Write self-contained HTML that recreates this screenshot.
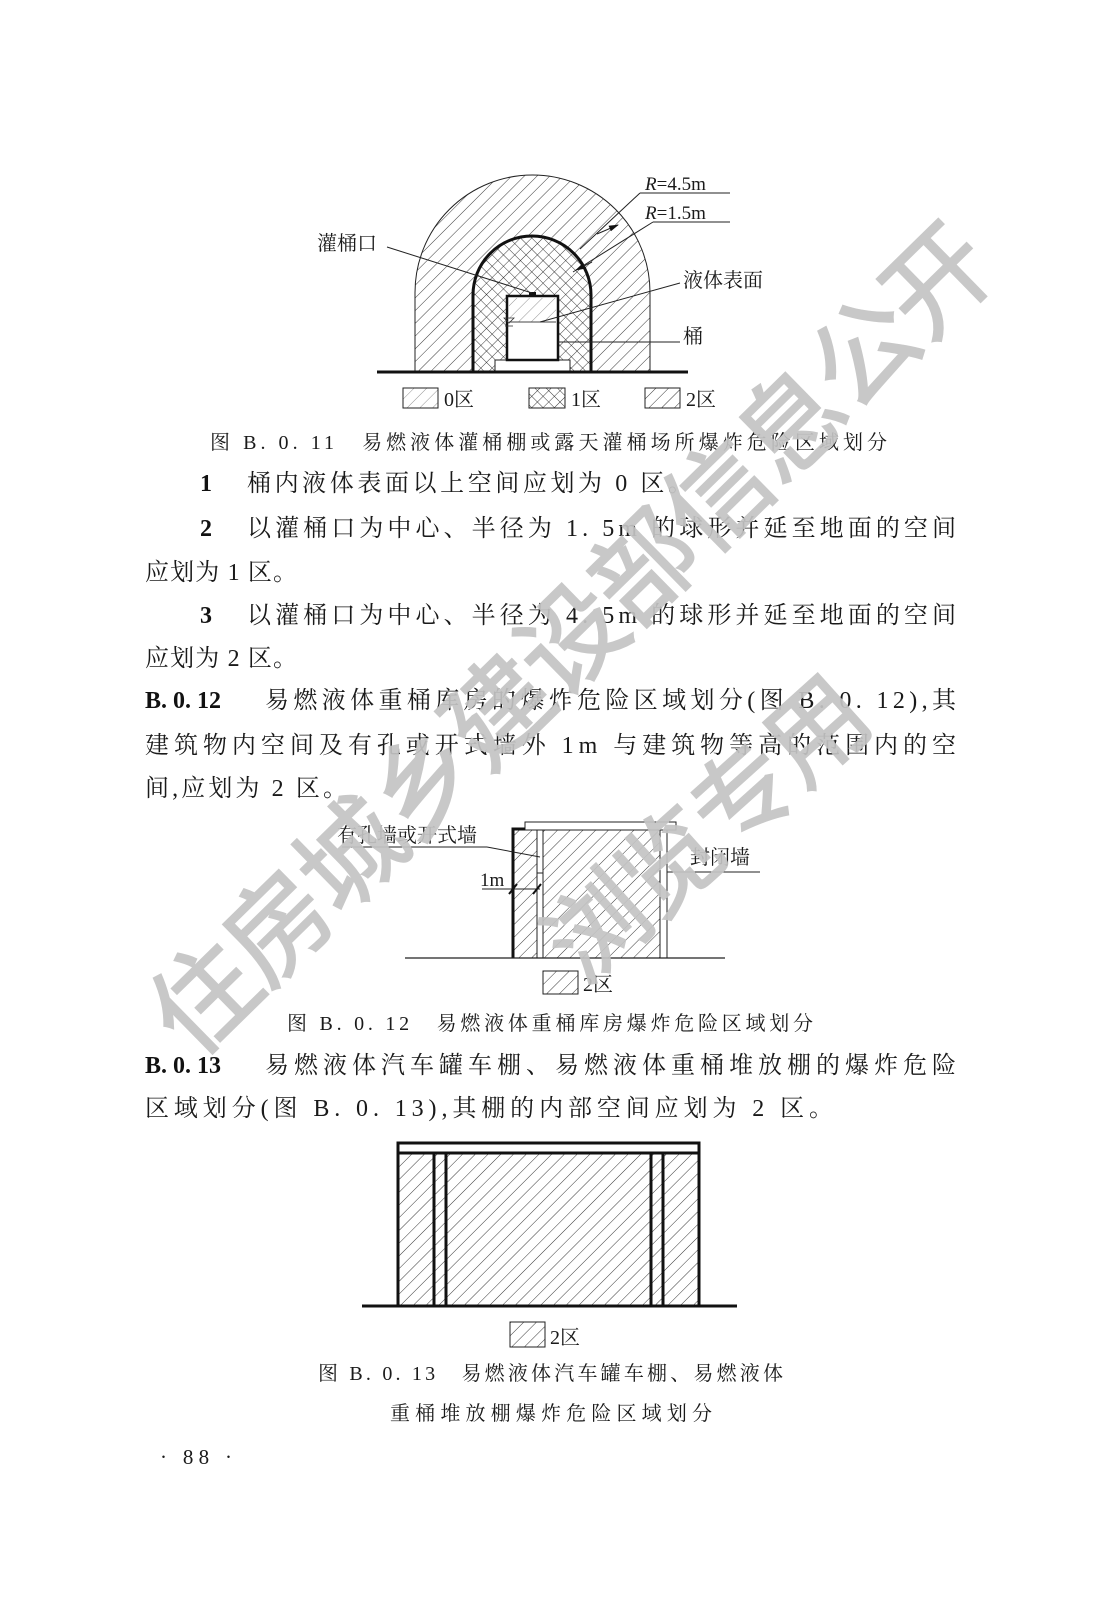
<!DOCTYPE html>
<html><head><meta charset="utf-8">
<style>
html,body{margin:0;padding:0;background:#fff;}
svg{display:block;}
.t{font-family:"Liberation Serif","Noto Serif CJK SC",serif;fill:#1a1a1a;}
.b{font-family:"Liberation Serif","Noto Serif CJK SC",serif;font-weight:bold;fill:#111;}
.wm{font-family:"Noto Sans CJK SC","WenQuanYi Zen Hei",sans-serif;font-weight:normal;fill:#c4c4c4;stroke:#c4c4c4;stroke-width:2;}
</style></head>
<body>
<svg width="1102" height="1598" viewBox="0 0 1102 1598" xmlns="http://www.w3.org/2000/svg">
<defs>
 <pattern id="h" width="9" height="9" patternUnits="userSpaceOnUse" patternTransform="rotate(45)">
  <line x1="0" y1="0" x2="0" y2="9" stroke="#222" stroke-width="0.9"/>
 </pattern>
 <pattern id="h0" width="9" height="9" patternUnits="userSpaceOnUse" patternTransform="rotate(45)">
  <line x1="0" y1="0" x2="0" y2="9" stroke="#666" stroke-width="0.7"/>
 </pattern>
 <pattern id="x" width="8" height="8" patternUnits="userSpaceOnUse" patternTransform="rotate(45)">
  <line x1="0" y1="0" x2="0" y2="8" stroke="#222" stroke-width="0.9"/>
  <line x1="0" y1="0" x2="8" y2="0" stroke="#222" stroke-width="0.9"/>
 </pattern>
 <marker id="ar" markerWidth="10" markerHeight="8" refX="9" refY="4" orient="auto" markerUnits="userSpaceOnUse">
  <path d="M0,1 L10,4 L0,7 Z" fill="#111"/>
 </marker>
</defs>

<path d="M415,372 V292.5 A117.5,117.5 0 0 1 650,292.5 V372 Z" fill="url(#h)" stroke="#222" stroke-width="1"/>
<path d="M473,372 V295 A59,59 0 0 1 591,295 V372 Z" fill="#fff"/>
<path d="M473,372 V295 A59,59 0 0 1 591,295 V372 Z" fill="url(#x)" stroke="#111" stroke-width="3"/>
<rect x="495" y="360" width="75" height="12" fill="#fff" stroke="#222" stroke-width="1"/>
<rect x="507" y="296" width="51" height="64" fill="#fff" stroke="#111" stroke-width="2.5"/>
<rect x="509" y="298" width="47" height="24" fill="url(#h0)"/>
<line x1="509" y1="322" x2="556" y2="322" stroke="#444" stroke-width="1"/>
<path d="M504,318 h10 l-5,5 z" fill="none" stroke="#333" stroke-width="0.8"/>
<line x1="505" y1="326" x2="513" y2="326" stroke="#333" stroke-width="0.8"/>
<rect x="529" y="292" width="7" height="4" fill="#111"/>
<line x1="377" y1="372" x2="688" y2="372" stroke="#111" stroke-width="3"/>
<line x1="387" y1="247" x2="532" y2="293" stroke="#222" stroke-width="1"/>
<line x1="680" y1="283" x2="540" y2="322" stroke="#222" stroke-width="1"/>
<line x1="558" y1="342" x2="680" y2="342" stroke="#222" stroke-width="1"/>
<line x1="640" y1="193" x2="730" y2="193" stroke="#222" stroke-width="1"/>
<line x1="653" y1="222" x2="730" y2="222" stroke="#222" stroke-width="1"/>
<line x1="640" y1="193" x2="580" y2="249" stroke="#222" stroke-width="1"/>
<line x1="597" y1="234" x2="618" y2="225" stroke="#222" stroke-width="1" marker-end="url(#ar)"/>
<line x1="653" y1="222" x2="573" y2="272" stroke="#222" stroke-width="1"/>
<line x1="592" y1="262" x2="576" y2="270" stroke="#222" stroke-width="1" marker-end="url(#ar)"/>
<text class="t" x="645" y="190" font-size="19"><tspan font-style="italic">R</tspan>=4.5m</text>
<text class="t" x="645" y="219" font-size="19"><tspan font-style="italic">R</tspan>=1.5m</text>
<text class="t" x="317" y="250" font-size="20">灌桶口</text>
<text class="t" x="683" y="287" font-size="20">液体表面</text>
<text class="t" x="683" y="343" font-size="20">桶</text>
<rect x="403" y="388" width="35" height="20" fill="url(#h0)" stroke="#222" stroke-width="1"/>
<text class="t" x="444" y="406" font-size="20">0区</text>
<rect x="529" y="388" width="36" height="20" fill="url(#x)" stroke="#222" stroke-width="1"/>
<text class="t" x="571" y="406" font-size="20">1区</text>
<rect x="645" y="388" width="35" height="20" fill="url(#h)" stroke="#222" stroke-width="1"/>
<text class="t" x="686" y="406" font-size="20">2区</text>
<text class="t" x="210" y="449" font-size="20" textLength="677" lengthAdjust="spacing">图 B. 0. 11　易燃液体灌桶棚或露天灌桶场所爆炸危险区域划分</text>

<text class="b" x="200" y="491" font-size="24">1</text>
<text class="t" x="247" y="491" font-size="24" textLength="445" lengthAdjust="spacing">桶内液体表面以上空间应划为 0 区。</text>
<text class="b" x="200" y="536" font-size="24">2</text>
<text class="t" x="247" y="536" font-size="24" textLength="709" lengthAdjust="spacing">以灌桶口为中心、半径为 1. 5m 的球形并延至地面的空间</text>
<text class="t" x="145" y="580" font-size="24" textLength="152" lengthAdjust="spacing">应划为 1 区。</text>
<text class="b" x="200" y="623" font-size="24">3</text>
<text class="t" x="247" y="623" font-size="24" textLength="709" lengthAdjust="spacing">以灌桶口为中心、半径为 4. 5m 的球形并延至地面的空间</text>
<text class="t" x="145" y="666" font-size="24" textLength="152" lengthAdjust="spacing">应划为 2 区。</text>
<text class="b" x="145" y="708" font-size="24">B. 0. 12</text>
<text class="t" x="265" y="708" font-size="24" textLength="691" lengthAdjust="spacing">易燃液体重桶库房的爆炸危险区域划分(图 B. 0. 12),其</text>
<text class="t" x="145" y="753" font-size="24" textLength="811" lengthAdjust="spacing">建筑物内空间及有孔或开式墙外 1m 与建筑物等高的范围内的空</text>
<text class="t" x="145" y="796" font-size="24" textLength="202" lengthAdjust="spacing">间,应划为 2 区。</text>

<rect x="525" y="822" width="151" height="8" fill="#fff" stroke="#222" stroke-width="1"/>
<rect x="514" y="830" width="23" height="128" fill="url(#h)"/>
<rect x="543" y="830" width="117" height="128" fill="url(#h)"/>
<line x1="537" y1="830" x2="537" y2="958" stroke="#222" stroke-width="1"/>
<line x1="543" y1="830" x2="543" y2="958" stroke="#222" stroke-width="1"/>
<line x1="537" y1="873" x2="543" y2="873" stroke="#222" stroke-width="1"/>
<line x1="660" y1="830" x2="660" y2="958" stroke="#222" stroke-width="1"/>
<line x1="667" y1="830" x2="667" y2="958" stroke="#222" stroke-width="1"/>
<path d="M525,829 H513 V958" fill="none" stroke="#111" stroke-width="3"/>
<line x1="405" y1="958" x2="725" y2="958" stroke="#222" stroke-width="1.3"/>
<line x1="342" y1="847" x2="487" y2="847" stroke="#222" stroke-width="1"/>
<line x1="487" y1="847" x2="540" y2="857" stroke="#222" stroke-width="1"/>
<line x1="482" y1="889" x2="540" y2="889" stroke="#222" stroke-width="1"/>
<line x1="509" y1="894" x2="517" y2="884" stroke="#111" stroke-width="2"/>
<line x1="533" y1="894" x2="541" y2="884" stroke="#111" stroke-width="2"/>
<line x1="667" y1="872" x2="760" y2="872" stroke="#222" stroke-width="1"/>
<text class="t" x="337" y="842" font-size="20">有孔墙或开式墙</text>
<text class="t" x="480" y="886" font-size="19">1m</text>
<text class="t" x="690" y="864" font-size="20">封闭墙</text>
<rect x="543" y="971" width="35" height="23" fill="url(#h)" stroke="#222" stroke-width="1"/>
<text class="t" x="583" y="991" font-size="20">2区</text>
<text class="t" x="287" y="1030" font-size="20" textLength="526" lengthAdjust="spacing">图 B. 0. 12　易燃液体重桶库房爆炸危险区域划分</text>

<text class="b" x="145" y="1073" font-size="24">B. 0. 13</text>
<text class="t" x="265" y="1073" font-size="24" textLength="691" lengthAdjust="spacing">易燃液体汽车罐车棚、易燃液体重桶堆放棚的爆炸危险</text>
<text class="t" x="145" y="1116" font-size="24" textLength="688" lengthAdjust="spacing">区域划分(图 B. 0. 13),其棚的内部空间应划为 2 区。</text>

<rect x="398" y="1153" width="301" height="153" fill="url(#h)"/>
<rect x="398" y="1143" width="301" height="163" fill="none" stroke="#111" stroke-width="3"/>
<line x1="398" y1="1153" x2="699" y2="1153" stroke="#111" stroke-width="3"/>
<line x1="434" y1="1153" x2="434" y2="1306" stroke="#111" stroke-width="3"/>
<line x1="446" y1="1153" x2="446" y2="1306" stroke="#111" stroke-width="3"/>
<line x1="651" y1="1153" x2="651" y2="1306" stroke="#111" stroke-width="3"/>
<line x1="663" y1="1153" x2="663" y2="1306" stroke="#111" stroke-width="3"/>
<line x1="362" y1="1306" x2="737" y2="1306" stroke="#111" stroke-width="3"/>
<rect x="510" y="1322" width="35" height="25" fill="url(#h)" stroke="#222" stroke-width="1"/>
<text class="t" x="550" y="1344" font-size="20">2区</text>
<text class="t" x="318" y="1380" font-size="20" textLength="465" lengthAdjust="spacing">图 B. 0. 13　易燃液体汽车罐车棚、易燃液体</text>
<text class="t" x="390" y="1420" font-size="20" textLength="322" lengthAdjust="spacing">重桶堆放棚爆炸危险区域划分</text>
<text class="t" x="160" y="1464" font-size="21" textLength="72" lengthAdjust="spacing">· 88 ·</text>

<g opacity="0.92">
<text class="wm" font-size="104" text-anchor="middle" transform="translate(572,640) rotate(-44.4)" dy="36" textLength="1130" lengthAdjust="spacing">住房城乡建设部信息公开</text>
<text class="wm" font-size="100" text-anchor="middle" transform="translate(708,830) rotate(-42)" dy="34" textLength="395" lengthAdjust="spacing">浏览专用</text>
</g>
</svg>
</body></html>
